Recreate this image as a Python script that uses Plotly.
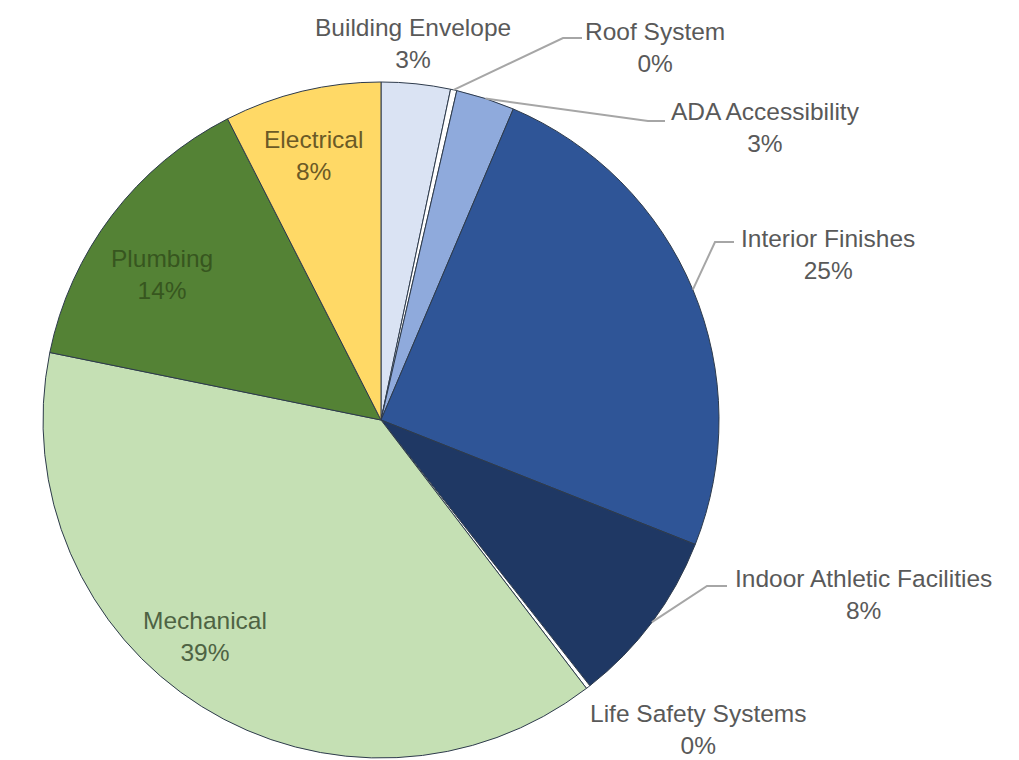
import math
import plotly.graph_objects as go

# ---- data ----
categories = ["Building Envelope", "Roof System", "ADA Accessibility", "Interior Finishes",
              "Indoor Athletic Facilities", "Life Safety Systems", "Mechanical", "Plumbing", "Electrical"]
values = [3.3, 0.3, 2.8, 24.6, 8.4, 0.2, 38.6, 14.3, 7.5]
colors = ["#DAE3F3", "#FFFFFF", "#8FAADC", "#2F5597", "#1F3864", "#FFFFFF", "#C5E0B4", "#548235", "#FFD966"]

# ---- layout (pixels) ----
W, H = 1019, 760
CX, CY, R = 381, 420, 338

# label text centres (px) and text colours
label_layout = {
    "Building Envelope": dict(pos=(413, 44), color="#595959"),
    "Roof System": dict(pos=(655, 48), color="#595959"),
    "ADA Accessibility": dict(pos=(765, 128), color="#595959"),
    "Interior Finishes": dict(pos=(828, 254), color="#595959"),
    "Indoor Athletic Facilities": dict(pos=(863, 594), color="#595959"),
    "Life Safety Systems": dict(pos=(698, 729), color="#595959"),
    "Mechanical": dict(pos=(205, 636), color="#4E6343"),
    "Plumbing": dict(pos=(162, 274), color="#37561F"),
    "Electrical": dict(pos=(313, 156), color="#6B5A26"),
}
# leader line elbow and end points (px)
leaders = {
    "Roof System": [(563, 38), (582, 38)],
    "ADA Accessibility": [(648, 121), (665, 121)],
    "Interior Finishes": [(715, 242), (734, 242)],
    "Indoor Athletic Facilities": [(707, 586), (727, 586)],
}

def px(x):
    return x / W

def py(y):
    return 1 - y / H

fig = go.Figure(go.Pie(
    labels=categories, values=values, sort=False, direction="clockwise", rotation=0,
    marker=dict(colors=colors, line=dict(color="#2E3B4C", width=1)),
    textinfo="none", hoverinfo="skip", showlegend=False,
    domain=dict(x=[px(CX - R), px(CX + R)], y=[py(CY + R), py(CY - R)]),
))

total = sum(values)
cum = 0.0
annotations = []
shapes = []
for name, v in zip(categories, values):
    mid = (cum + v / 2) / total * 2 * math.pi
    cum += v
    pct = round(v / total * 100)
    lx, ly = label_layout[name]["pos"]
    annotations.append(dict(
        x=px(lx), y=py(ly), xref="paper", yref="paper", showarrow=False,
        xanchor="center", yanchor="middle",
        text=f"{name}<br>{pct}%",
        font=dict(family="Liberation Sans", size=24.5, color=label_layout[name]["color"]),
    ))
    if name in leaders:
        sx = CX + R * math.sin(mid)
        sy = CY - R * math.cos(mid)
        pts = [(sx, sy)] + leaders[name]
        path = "M " + " L ".join(f"{px(a)},{py(b)}" for a, b in pts)
        shapes.append(dict(type="path", path=path, xref="paper", yref="paper",
                           line=dict(color="#A6A6A6", width=2)))

fig.update_layout(
    width=W, height=H, margin=dict(l=0, r=0, t=0, b=0),
    paper_bgcolor="white", plot_bgcolor="white",
    annotations=annotations, shapes=shapes,
)
fig.write_html("out.html")
